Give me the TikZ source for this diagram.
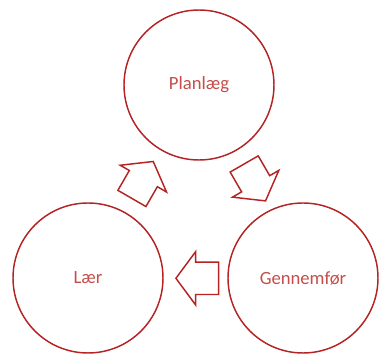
\documentclass[tikz,border=0pt]{standalone}
\usepackage{fontspec}
\setmainfont{Carlito}
\usepackage{tikz}
\usetikzlibrary{shapes.arrows}
\definecolor{cycleline}{RGB}{180,36,36}
\definecolor{cycletext}{RGB}{196,78,74}

\begin{document}
\begin{tikzpicture}[x=0.75pt, y=0.75pt,
  stage/.style={circle, draw=cycleline, line width=1.1pt, minimum size=112.5pt, inner sep=0pt, text=cycletext, font=\fontsize{14}{16}\selectfont},
  turn/.style={single arrow, draw=cycleline, line width=1.1pt, fill=white, inner xsep=0pt, inner ysep=11.6pt, minimum height=32pt, single arrow head extend=7.9pt, single arrow tip angle=107, anchor=tip}]
\useasboundingbox (0,0) rectangle (380,354);
\node[stage] (plan) at (199,269) {Planlæg};
\node[stage] (laer) at (88,76) {Lær};
\node[stage] (gen) at (303,76) {Gennemfør};

\node[turn, rotate=60] (toplan) at (153.7,193.3) {};
\node[turn, rotate=-60] (togen) at (266,152.3) {};
\node[turn, rotate=180] (tolaer) at (175,75.7) {};
\end{tikzpicture}
\end{document}
